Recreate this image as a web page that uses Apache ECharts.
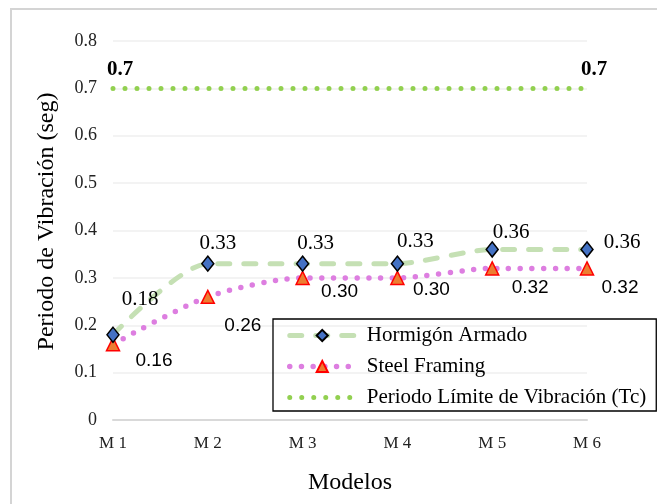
<!DOCTYPE html>
<html>
<head>
<meta charset="utf-8">
<script src="https://cdn.jsdelivr.net/npm/echarts@6/dist/echarts.min.js"></script>
<style>
  html, body { margin: 0; padding: 0; background: #fff; }
  #chart { width: 657px; height: 504px; }
</style>
</head>
<body>
<div id="chart"></div>
<script>
// Periodo de vibración por modelo
const categories = ['M 1', 'M 2', 'M 3', 'M 4', 'M 5', 'M 6'];
const hormigonArmado = [0.18, 0.33, 0.33, 0.33, 0.36, 0.36];
const steelFraming = [0.16, 0.26, 0.30, 0.30, 0.32, 0.32];
const periodoLimite = [0.7, 0.7, 0.7, 0.7, 0.7, 0.7];
const yTicks = ['0', '0.1', '0.2', '0.3', '0.4', '0.5', '0.6', '0.7', '0.8'];

const serif = '"Liberation Serif", "Times New Roman", serif';
const sans = '"Liberation Sans", Arial, sans-serif';

const hormigonLine = { color: '#C5E0B4', width: 5, type: [12, 14], cap: 'round' };
const steelLine = { color: '#DD7EE0', width: 5.5, type: [0, 11.7], cap: 'round' };
const limiteLine = { color: '#92D050', width: 5, type: [0, 12], cap: 'round' };
const hidden = 'rgba(0,0,0,0)';

// label offsets from each point's centre
const hormigonOffsets = [[27, -35], [10, -20], [13, -20], [18, -22], [19, -17], [35, -7]];
const steelOffsets = [[41, 17], [35, 29], [37, 14], [34, 12], [38, 19], [33, 19]];

const hormigonData = hormigonArmado.map((v, i) => ({
  value: v,
  label: { offset: hormigonOffsets[i] }
}));
const steelData = steelFraming.map((v, i) => ({
  value: v,
  label: { offset: steelOffsets[i] }
}));
const limiteData = periodoLimite.map((v, i) => ({
  value: v,
  label: { show: i === 0 || i === periodoLimite.length - 1, offset: [7, -19] }
}));

const chart = echarts.init(document.getElementById('chart'), null, { renderer: 'canvas' });

chart.setOption({
  animation: false,
  backgroundColor: '#fff',
  graphic: [{
    type: 'rect',
    shape: { x: 11, y: 9, width: 700, height: 600 },
    style: { fill: 'none', stroke: '#d4d4d4', lineWidth: 2 },
    silent: true,
    z: -1
  }],
  grid: { left: 113, right: 70, top: 41, bottom: 84 },
  legend: {
    orient: 'vertical',
    left: 273,
    top: 319,
    padding: [6, 10, 3, 14],
    itemWidth: 65,
    itemHeight: 14,
    itemGap: 10,
    borderColor: '#000',
    borderWidth: 1.3,
    textStyle: { fontFamily: serif, fontSize: 21, color: '#000', padding: [0, 0, 0, 7] },
    data: [
      { name: 'Hormigón Armado', lineStyle: hormigonLine },
      { name: 'Steel Framing', lineStyle: steelLine },
      { name: 'Periodo Límite de Vibración (Tc)', lineStyle: limiteLine,
        itemStyle: { color: hidden, borderWidth: 0 } }
    ]
  },
  xAxis: {
    type: 'category',
    data: categories,
    boundaryGap: false,
    name: 'Modelos',
    nameLocation: 'middle',
    nameGap: 51,
    nameTextStyle: { fontFamily: serif, fontSize: 24, color: '#000' },
    axisLine: { lineStyle: { color: '#d9d9d9', width: 2 } },
    axisTick: { show: false },
    axisLabel: { fontFamily: serif, fontSize: 17, color: '#222', margin: 15 },
    splitLine: { show: false }
  },
  yAxis: {
    type: 'value',
    min: 0,
    max: 0.8,
    interval: 0.1,
    name: 'Periodo de Vibración (seg)',
    nameLocation: 'middle',
    nameRotate: 90,
    nameGap: 54,
    nameTextStyle: { fontFamily: serif, fontSize: 24, color: '#000', padding: [0, 0, 0, 18] },
    axisLine: { show: false },
    axisTick: { show: false },
    axisLabel: {
      fontFamily: serif, fontSize: 18, color: '#222', margin: 16,
      formatter: (v) => yTicks[Math.round(v * 10)]
    },
    splitLine: { lineStyle: { color: '#efefef', width: 1.5 } }
  },
  series: [
    {
      name: 'Hormigón Armado',
      type: 'line',
      data: hormigonData,
      smooth: 0.25,
      symbol: 'diamond',
      symbolSize: [12, 15],
      z: 3,
      lineStyle: hormigonLine,
      itemStyle: { color: '#4472C4', borderColor: '#000', borderWidth: 1.5 },
      label: {
        show: true, position: 'inside', align: 'center', verticalAlign: 'middle',
        fontFamily: serif, fontSize: 21, color: '#000',
        formatter: (p) => p.value.toFixed(2)
      }
    },
    {
      name: 'Steel Framing',
      type: 'line',
      data: steelData,
      smooth: 0.25,
      symbol: 'triangle',
      symbolSize: [13, 13],
      z: 2,
      lineStyle: steelLine,
      itemStyle: { color: '#ED7D31', borderColor: '#FF0000', borderWidth: 1.5 },
      label: {
        show: true, position: 'inside', align: 'center', verticalAlign: 'middle',
        fontFamily: sans, fontSize: 19, color: '#000',
        formatter: (p) => p.value.toFixed(2)
      }
    },
    {
      name: 'Periodo Límite de Vibración (Tc)',
      type: 'line',
      data: limiteData,
      symbol: 'circle',
      symbolSize: 2,
      z: 1,
      lineStyle: limiteLine,
      itemStyle: { color: hidden, borderWidth: 0 },
      label: {
        show: true, position: 'inside', align: 'center', verticalAlign: 'middle',
        fontFamily: serif, fontSize: 21, fontWeight: 'bold', color: '#000',
        formatter: (p) => String(p.value)
      }
    }
  ]
});
</script>
</body>
</html>
